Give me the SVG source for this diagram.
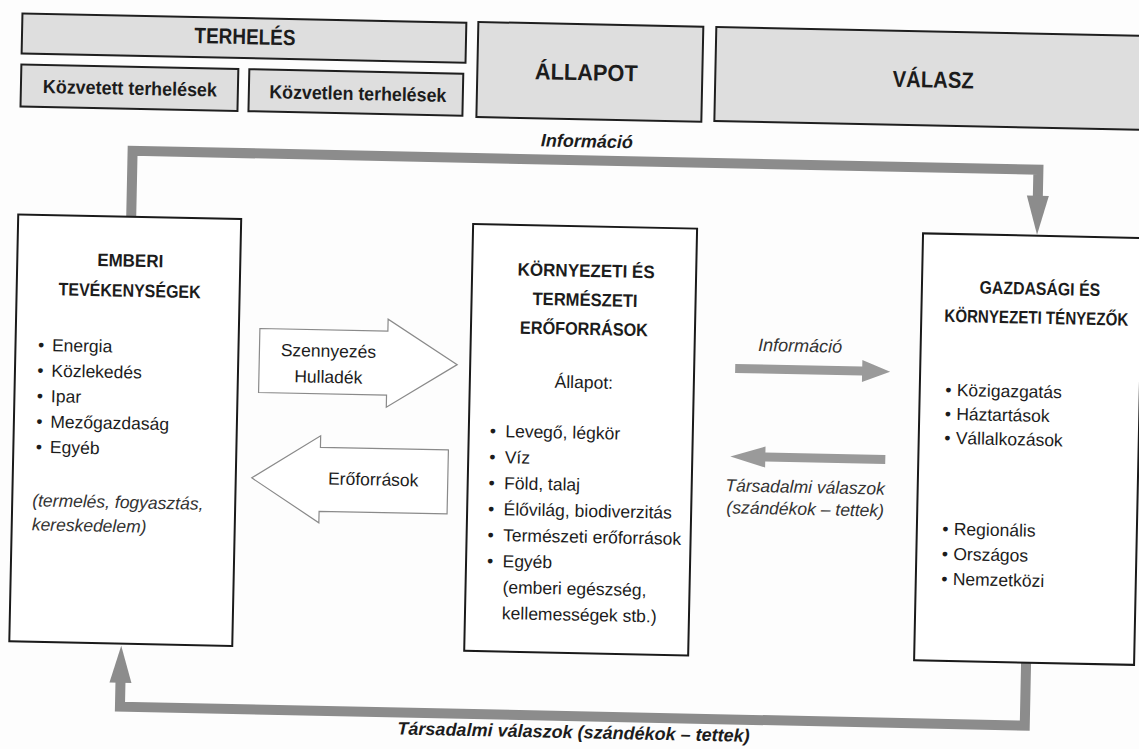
<svg xmlns="http://www.w3.org/2000/svg" width="1139" height="749" viewBox="0 0 1139 749">
<style>
.hdr{fill:#dedede;stroke:#1f1f1f;stroke-width:2}
.box{fill:#ffffff;stroke:#1a1a1a;stroke-width:2}
.t{font-family:'Liberation Sans',Arial,sans-serif;fill:#1c1c1c}
.b{font-weight:bold}
.i{font-style:italic}
.c{text-anchor:middle}
.r{font-size:17.5px}
.flow{fill:none;stroke:#8c8c8c;stroke-width:10;stroke-linejoin:miter}
.head{fill:#8c8c8c}
.hollow{fill:#ffffff;stroke:#8a8a8a;stroke-width:1.2}
.solid{fill:#9a9a9a}
.lbl{fill:#333333}
</style>
<rect width="1139" height="749" fill="#fdfdfd"/>
<g transform="rotate(1.2 570 375)">
  <g id="terheles">
    <rect class="hdr" x="15" y="25" width="444" height="40"/>
    <text class="t b c" x="238" y="51" font-size="22" textLength="101" lengthAdjust="spacingAndGlyphs">TERHELÉS</text>
  </g>
  <g id="kozvetett">
    <rect class="hdr" x="15" y="76" width="217" height="42"/>
    <text class="t b c" x="124" y="104" font-size="19" textLength="174" lengthAdjust="spacingAndGlyphs">Közvetett terhelések</text>
  </g>
  <g id="kozvetlen">
    <rect class="hdr" x="243" y="76" width="214" height="42"/>
    <text class="t b c" x="352" y="104.5" font-size="19" textLength="177" lengthAdjust="spacingAndGlyphs">Közvetlen terhelések</text>
  </g>
  <g id="allapot">
    <rect class="hdr" x="471" y="24" width="225" height="95"/>
    <text class="t b c" x="580" y="80" font-size="23" textLength="103" lengthAdjust="spacingAndGlyphs">ÁLLAPOT</text>
  </g>
  <g id="valasz">
    <rect class="hdr" x="709" y="24" width="445" height="94"/>
    <text class="t b c" x="927" y="80" font-size="23" textLength="81" lengthAdjust="spacingAndGlyphs">VÁLASZ</text>
  </g>

  <g id="connectors">
    <path class="flow" d="M128,226 V160 H1034 V188"/>
    <polygon class="head" points="1023,186 1045,186 1034,225"/>
    <text class="t b i c" x="582" y="147" font-size="18">Információ</text>

    <path class="flow" d="M1032,653 V716 H127 V690"/>
    <polygon class="head" points="116,692 138,692 127,655"/>
    <text class="t b i c" x="581" y="738" font-size="18">Társadalmi válaszok (szándékok – tettek)</text>

    <path class="hollow" d="M259,335 H387 V323 L457,367 L387,411 V399 H259 Z"/>
    <text class="t r c" x="328" y="362">Szennyezés</text>
    <text class="t r c" x="328.5" y="388">Hulladék</text>

    <path class="hollow" d="M450,452.5 H322 V441 L254,484.5 L322,528 V516.5 H450 Z"/>
    <text class="t r c" x="375.5" y="489.5">Erőforrások</text>

    <path class="solid" d="M735,360.5 H862 V354 L890,365 L862,376 V369.5 H735 Z"/>
    <text class="t i c lbl" x="799.5" y="347" font-size="18">Információ</text>

    <path class="solid" d="M887,448.5 H767 V442.5 L732,453 L767,463.5 V457.5 H887 Z"/>
    <text class="t i c r lbl" x="807.5" y="488">Társadalmi válaszok</text>
    <text class="t i c r lbl" x="808" y="510">(szándékok – tettek)</text>
  </g>

  <g id="emberi">
    <rect class="box" x="15" y="226" width="223" height="427"/>
    <text class="t b c" x="128" y="276" font-size="18" textLength="66" lengthAdjust="spacingAndGlyphs">EMBERI</text>
    <text class="t b c" x="128" y="306" font-size="18" textLength="142" lengthAdjust="spacingAndGlyphs">TEVÉKENYSÉGEK</text>
    <text class="t r"><tspan x="37.5" y="362">•</tspan><tspan x="51.5" y="362">Energia</tspan></text>
    <text class="t r"><tspan x="37.5" y="387.5">•</tspan><tspan x="51.5" y="387.5">Közlekedés</tspan></text>
    <text class="t r"><tspan x="37.5" y="413">•</tspan><tspan x="51.5" y="413">Ipar</tspan></text>
    <text class="t r"><tspan x="37.5" y="438.5">•</tspan><tspan x="51.5" y="438.5">Mezőgazdaság</tspan></text>
    <text class="t r"><tspan x="37.5" y="464">•</tspan><tspan x="51.5" y="464">Egyéb</tspan></text>
    <text class="t r i lbl" x="35" y="517.5">(termelés, fogyasztás,</text>
    <text class="t r i lbl" x="35" y="541.5">kereskedelem)</text>
  </g>

  <g id="kornyezeti">
    <rect class="box" x="470" y="226" width="224" height="427"/>
    <text class="t b c" x="584" y="276.5" font-size="18" textLength="137" lengthAdjust="spacingAndGlyphs">KÖRNYEZETI ÉS</text>
    <text class="t b c" x="583.5" y="305.7" font-size="18" textLength="105" lengthAdjust="spacingAndGlyphs">TERMÉSZETI</text>
    <text class="t b c" x="583" y="334.7" font-size="18" textLength="128" lengthAdjust="spacingAndGlyphs">ERŐFORRÁSOK</text>
    <text class="t r c" x="584" y="388">Állapot:</text>
    <text class="t r"><tspan x="491" y="438.5">•</tspan><tspan x="506.5" y="438.5">Levegő, légkör</tspan></text>
    <text class="t r"><tspan x="491" y="464.5">•</tspan><tspan x="506.5" y="464.5">Víz</tspan></text>
    <text class="t r"><tspan x="491" y="490.5">•</tspan><tspan x="506.5" y="490.5">Föld, talaj</tspan></text>
    <text class="t r"><tspan x="491" y="516.5">•</tspan><tspan x="506.5" y="516.5">Élővilág, biodiverzitás</tspan></text>
    <text class="t r"><tspan x="491" y="542.5">•</tspan><tspan x="506.5" y="542.5">Természeti erőforrások</tspan></text>
    <text class="t r"><tspan x="491" y="568.5">•</tspan><tspan x="506.5" y="568.5">Egyéb</tspan></text>
    <text class="t r" x="507" y="594.5">(emberi egészség,</text>
    <text class="t r" x="507" y="620.5">kellemességek stb.)</text>
  </g>

  <g id="gazdasagi">
    <rect class="box" x="920" y="226" width="220" height="427"/>
    <text class="t b c" transform="translate(1038 285) scale(0.88 1)" x="0" y="0" font-size="18">GAZDASÁGI ÉS</text>
    <text class="t b c" transform="translate(1035 314) scale(0.84 1)" x="0" y="0" font-size="18">KÖRNYEZETI TÉNYEZŐK</text>
    <text class="t r"><tspan x="945.5" y="388">•</tspan><tspan x="957" y="388">Közigazgatás</tspan></text>
    <text class="t r"><tspan x="945.5" y="412">•</tspan><tspan x="957" y="412">Háztartások</tspan></text>
    <text class="t r"><tspan x="945.5" y="436">•</tspan><tspan x="957" y="436">Vállalkozások</tspan></text>
    <text class="t r"><tspan x="945.5" y="527">•</tspan><tspan x="957" y="527">Regionális</tspan></text>
    <text class="t r"><tspan x="945.5" y="552">•</tspan><tspan x="957" y="552">Országos</tspan></text>
    <text class="t r"><tspan x="945.5" y="577">•</tspan><tspan x="957" y="577">Nemzetközi</tspan></text>
  </g>
</g>
</svg>
